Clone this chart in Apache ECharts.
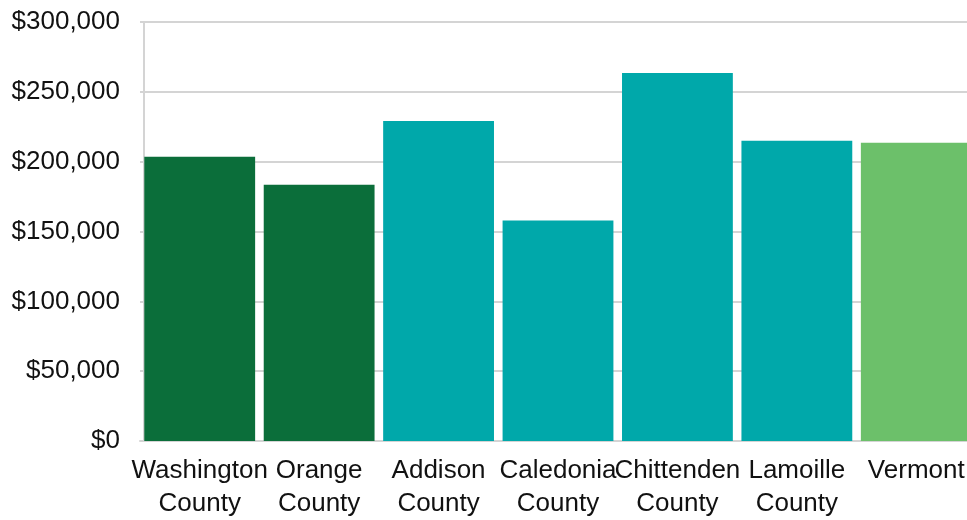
<!DOCTYPE html>
<html>
<head>
<meta charset="utf-8">
<script src="https://cdn.jsdelivr.net/npm/echarts@6/dist/echarts.min.js"></script>
<style>
  html, body { margin: 0; padding: 0; background: #ffffff; overflow: hidden; }
  #chart { width: 976px; height: 520px; }
</style>
</head>
<body>
<div id="chart"></div>
<script>
// Median home value by area
const categories = ['Washington\nCounty', 'Orange\nCounty', 'Addison\nCounty', 'Caledonia\nCounty', 'Chittenden\nCounty', 'Lamoille\nCounty', 'Vermont'];
const values = [203500, 183500, 229200, 157900, 263400, 214900, 213500];
const barColors = ['#0B6E3A', '#0B6E3A', '#00A8AA', '#00A8AA', '#00A8AA', '#00A8AA', '#6CC06A'];
const yTicks = { min: 0, max: 300000, interval: 50000 };

const chart = echarts.init(document.getElementById('chart'));
const font = 'Liberation Sans, Arial, sans-serif';

chart.setOption({
  animation: false,
  grid: { left: 140, top: 22, right: 0, bottom: 78, containLabel: false },
  xAxis: {
    type: 'category',
    data: categories,
    axisLine: { show: true, lineStyle: { color: '#d4d4d4', width: 2 } },
    axisTick: { show: false },
    axisLabel: {
      color: '#111111',
      fontFamily: font,
      fontSize: 26,
      lineHeight: 33,
      margin: 13,
      interval: 0
    }
  },
  yAxis: {
    type: 'value',
    min: yTicks.min,
    max: yTicks.max,
    interval: yTicks.interval,
    offset: -4,
    axisLine: { show: true, lineStyle: { color: '#d4d4d4', width: 2 } },
    axisTick: { show: false },
    splitLine: { show: true, lineStyle: { color: '#d4d4d4', width: 2 } },
    axisLabel: {
      color: '#111111',
      fontFamily: font,
      fontSize: 26,
      margin: 24,
      formatter: v => '$' + v.toLocaleString('en-US')
    }
  },
  series: [{
    type: 'bar',
    data: values.map((v, i) => ({ value: v, itemStyle: { color: barColors[i] } })),
    barCategoryGap: '7.2%'
  }]
});
</script>
</body>
</html>
